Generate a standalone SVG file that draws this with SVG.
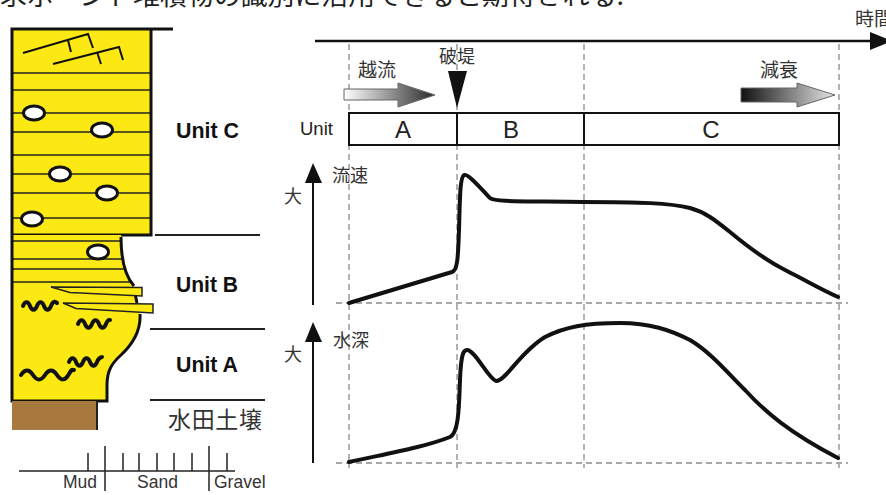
<svg xmlns="http://www.w3.org/2000/svg" width="886" height="495" viewBox="0 0 886 495">
  <style>
    .jp { font-family: "Noto Sans CJK JP", "Noto Sans", sans-serif; fill: #333; }
    .lat { font-family: "Liberation Sans", Arial, sans-serif; fill: #222; }
    .bold { font-weight: bold; fill: #111; }
    .thin { stroke: #222; stroke-width: 1.5; fill: none; }
    .thick { stroke: #111; stroke-width: 3; fill: none; }
    .dash { stroke: #8a8a8a; stroke-width: 1.3; stroke-dasharray: 6 4; fill: none; }
    .curve { stroke: #111; stroke-width: 4; fill: none; stroke-linejoin: round; stroke-linecap: round; }
    .pebble { fill: #fff; stroke: #111; stroke-width: 3; }
    .worm { stroke: #111; stroke-width: 4; fill: none; stroke-linecap: round; }
    .tongue { fill: #fce913; stroke: #222; stroke-width: 1.5; stroke-linejoin: miter; }
  </style>
  <defs>
    <linearGradient id="gOver" x1="0" x2="1" y1="0" y2="0">
      <stop offset="0" stop-color="#ffffff"/>
      <stop offset="1" stop-color="#2a2a2a"/>
    </linearGradient>
    <linearGradient id="gDecay" x1="0" x2="1" y1="0" y2="0">
      <stop offset="0" stop-color="#111111"/>
      <stop offset="1" stop-color="#e6e6e6"/>
    </linearGradient>
    <clipPath id="bodyClip">
      <path d="M12,235 H121 C121,258 125,276 134,286 L137,298 L140,312 C141,330 132,345 120,356 C111,364 107,372 107,385 V401 H12 Z"/>
    </clipPath>
  </defs>

  <rect width="886" height="495" fill="#fff"/>

  <!-- caption line running off the top edge -->
  <text class="jp" x="0" y="5" font-size="25" textLength="624" lengthAdjust="spacingAndGlyphs" style="fill:#222">求ボーンド堆積物の識別に活用できると期待される.</text>

  <!-- sediment column -->
  <g id="column">
    <!-- Unit C block -->
    <g id="unitC-block">
      <rect x="12" y="29" width="139" height="206" fill="#fce913"/>
      <g class="thin">
        <line x1="12" y1="73" x2="151" y2="73"/>
        <line x1="12" y1="90" x2="151" y2="90"/>
        <line x1="12" y1="113" x2="151" y2="113"/>
        <line x1="12" y1="132" x2="151" y2="132"/>
        <line x1="12" y1="155" x2="151" y2="155"/>
        <line x1="12" y1="174" x2="151" y2="174"/>
        <line x1="12" y1="193" x2="151" y2="193"/>
        <line x1="12" y1="218" x2="151" y2="218"/>
      </g>
      <!-- cross bedding -->
      <g stroke="#111" stroke-width="2" fill="none">
        <path d="M23,53 L88,34 L93,48"/>
        <line x1="68" y1="40" x2="71" y2="52"/>
        <path d="M53,64 L119,47 L123,60"/>
        <line x1="97" y1="52" x2="101" y2="64"/>
      </g>
      <ellipse class="pebble" cx="34" cy="113" rx="10.5" ry="7"/>
      <ellipse class="pebble" cx="102" cy="130" rx="10.5" ry="7"/>
      <ellipse class="pebble" cx="60" cy="174" rx="10.5" ry="7"/>
      <ellipse class="pebble" cx="107" cy="193" rx="10.5" ry="7"/>
      <ellipse class="pebble" cx="32" cy="219" rx="10.5" ry="7"/>
      <path d="M12,235 V29 H173 M151,29 V235 H12" class="thick"/>
    </g>

    <!-- Units B and A block -->
    <g id="unitBA-block">
      <path d="M12,235 H121 C121,258 125,276 134,286 L137,298 L140,312 C141,330 132,345 120,356 C111,364 107,372 107,385 V401 H12 Z" fill="#fce913"/>
      <g class="thin" clip-path="url(#bodyClip)">
        <line x1="12" y1="241" x2="160" y2="241"/>
        <line x1="12" y1="259" x2="160" y2="259"/>
        <line x1="12" y1="269" x2="160" y2="269"/>
        <line x1="12" y1="282" x2="160" y2="282"/>
      </g>
      <ellipse class="pebble" cx="98" cy="252" rx="10.5" ry="7"/>
      <path class="tongue" d="M51,287 L142,287.5 L142,296 L70,292.5 Z"/>
      <path class="tongue" d="M63,303 L153,304 L153,313 L76,308.5 Z"/>
      <path class="thick" d="M12,235 V401 H107 V385 C107,372 111,364 120,356 C132,345 141,330 140,314"/>
      <path class="thick" d="M121,237 C121,258 125,276 134,286"/>
      <line x1="135.5" y1="296" x2="137" y2="303" stroke="#111" stroke-width="3"/>
      <!-- burrows -->
      <path class="worm" d="M23,306 c2,-5 5,-5 7,0 s5,5 7,0 s5,-5 7,0 s5,5 7,0 s4,-5 6,-3"/>
      <path class="worm" d="M78,324 c2,-5 5,-5 7,0 s5,5 7,0 s5,-5 7,0 s5,5 7,0 s3,-4 4,-4"/>
      <path class="worm" d="M69,362 c2,-5 5,-5 7,0 s5,5 7,0 s5,-5 7,0 s5,5 7,0 s3,-4 5,-5"/>
      <path class="worm" d="M21,375 c4,-6 8,-6 12,0 s8,6 12,0 s8,-6 12,0 s8,6 12,-1 s3,-3 5,-4"/>
    </g>

    <!-- paddy soil -->
    <g id="paddy-soil">
      <rect x="12" y="401" width="85" height="29" fill="#a8793f"/>
      <line x1="97" y1="401" x2="97" y2="430" stroke="#222" stroke-width="2"/>
    </g>

    <!-- unit boundaries and labels -->
    <g id="unit-labels">
      <line x1="155" y1="235" x2="260" y2="235" stroke="#222" stroke-width="2"/>
      <line x1="150" y1="329" x2="265" y2="329" stroke="#222" stroke-width="2"/>
      <line x1="150" y1="400" x2="265" y2="400" stroke="#222" stroke-width="2"/>
      <text class="lat bold" x="176" y="138" font-size="22" textLength="63" lengthAdjust="spacingAndGlyphs">Unit C</text>
      <text class="lat bold" x="176" y="292" font-size="22" textLength="62" lengthAdjust="spacingAndGlyphs">Unit B</text>
      <text class="lat bold" x="176" y="372" font-size="22" textLength="62" lengthAdjust="spacingAndGlyphs">Unit A</text>
      <text class="jp" x="168" y="428" font-size="23" textLength="94">水田土壌</text>
    </g>

    <!-- grain size scale -->
    <g id="grain-scale" stroke="#222" stroke-width="1.5">
      <line x1="19" y1="471" x2="235" y2="471"/>
      <line x1="88" y1="453" x2="88" y2="471"/>
      <line x1="123" y1="453" x2="123" y2="471"/>
      <line x1="139" y1="453" x2="139" y2="471"/>
      <line x1="157" y1="453" x2="157" y2="471"/>
      <line x1="174" y1="453" x2="174" y2="471"/>
      <line x1="192" y1="453" x2="192" y2="471"/>
      <line x1="227" y1="453" x2="227" y2="471"/>
      <line x1="105" y1="446" x2="105" y2="491"/>
      <line x1="209" y1="446" x2="209" y2="491"/>
    </g>
    <g id="grain-labels">
      <text class="lat" x="63" y="488" font-size="17.5" style="fill:#333">Mud</text>
      <text class="lat" x="137" y="488" font-size="17.5" style="fill:#333">Sand</text>
      <text class="lat" x="214" y="488" font-size="17.5" style="fill:#333">Gravel</text>
    </g>
  </g>

  <!-- time axis -->
  <g id="time-axis">
    <line x1="315" y1="41" x2="872" y2="41" stroke="#111" stroke-width="2.5"/>
    <polygon points="870,32 892,41 870,50" fill="#111"/>
    <text class="jp" x="855" y="26" font-size="19">時間</text>
  </g>

  <!-- guides -->
  <g id="guides" class="dash">
    <line x1="349" y1="44" x2="349" y2="468"/>
    <line x1="457" y1="44" x2="457" y2="468"/>
    <line x1="584" y1="44" x2="584" y2="468"/>
    <line x1="839" y1="44" x2="839" y2="468"/>
    <line x1="336" y1="303" x2="848" y2="303"/>
    <line x1="336" y1="463" x2="848" y2="463"/>
  </g>

  <!-- events -->
  <g id="overflow">
    <path d="M344,89 H398 V83 L435,95 L398,107 V100 H344 Z" fill="url(#gOver)" stroke="#666" stroke-width="1"/>
    <text class="jp" x="358" y="77" font-size="19">越流</text>
  </g>
  <g id="breach">
    <text class="jp" x="439" y="63" font-size="18">破堤</text>
    <polygon points="448,71 467,71 457,108" fill="#111"/>
  </g>
  <g id="decay">
    <path d="M741,88 H797 V83 L835,95 L797,107 V102 H741 Z" fill="url(#gDecay)" stroke="#666" stroke-width="1"/>
    <text class="jp" x="760" y="77" font-size="19">減衰</text>
  </g>

  <!-- unit bar -->
  <g id="unit-bar">
    <rect x="349" y="113" width="490" height="32" fill="#fff" stroke="#111" stroke-width="2"/>
    <line x1="457" y1="113" x2="457" y2="145" stroke="#111" stroke-width="2"/>
    <line x1="584" y1="113" x2="584" y2="145" stroke="#111" stroke-width="2"/>
    <text class="lat" x="300" y="135" font-size="18.5">Unit</text>
    <text class="lat" x="403" y="138" font-size="24" text-anchor="middle">A</text>
    <text class="lat" x="511" y="138" font-size="24" text-anchor="middle">B</text>
    <text class="lat" x="711" y="138" font-size="24" text-anchor="middle">C</text>
  </g>

  <!-- velocity panel -->
  <g id="velocity">
    <line x1="313" y1="305" x2="313" y2="180" stroke="#111" stroke-width="2"/>
    <polygon points="305,183 313,163 322,183" fill="#111"/>
    <text class="jp" x="284" y="203" font-size="18">大</text>
    <text class="jp" x="332" y="182" font-size="18">流速</text>
    <path class="curve" d="M349,303 L452,272 C458,270 458,255 459,230 C460,195 460,178 464,175 C468,173 482,190 490,198 C495,202 520,201 584,202 C640,202 670,203 690,208 C705,212 715,220 730,232 C748,247 765,260 787,271 C805,280 820,289 838,297"/>
  </g>

  <!-- depth panel -->
  <g id="depth">
    <line x1="313" y1="463" x2="313" y2="340" stroke="#111" stroke-width="2"/>
    <polygon points="305,342 313,322 322,342" fill="#111"/>
    <text class="jp" x="284" y="361" font-size="18">大</text>
    <text class="jp" x="333" y="347" font-size="18">水深</text>
    <path class="curve" d="M349,462 C390,453 425,447 450,437 C459,433 459,405 460,380 C461,355 463,350 467,350 C475,350 488,378 496,381 C505,382 520,352 545,337 C565,327 585,323 620,323 C650,323 670,330 690,340 C710,352 725,370 745,390 C765,412 790,433 838,458"/>
  </g>
</svg>
